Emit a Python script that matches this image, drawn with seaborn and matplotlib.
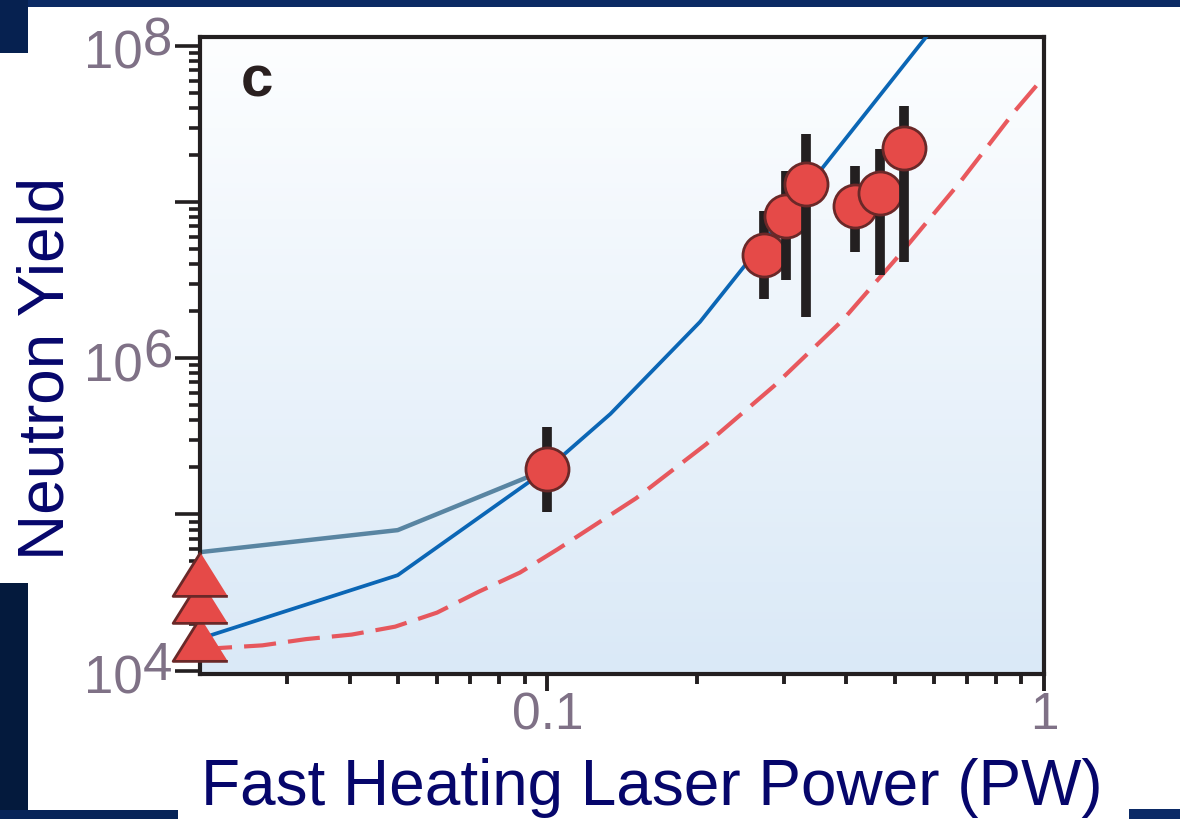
import numpy as np
import matplotlib
matplotlib.use("Agg")
import matplotlib.pyplot as plt
from matplotlib.patches import Rectangle
from matplotlib.colors import LinearSegmentedColormap
from matplotlib.ticker import FixedLocator, LogLocator, NullFormatter
import seaborn as sns

sns.set_theme(style="ticks")
plt.rcParams["font.family"] = ["Liberation Sans", "DejaVu Sans"]

# ── Data ─────────────────────────────────────────────────────────────────────

# heated shots: power (PW), yield, error bar low / high
shot_power = [0.1, 0.273, 0.302, 0.331, 0.417, 0.468, 0.523]
shot_yield = [1.94e5, 4.59e6, 8.09e6, 1.30e7, 9.37e6, 1.15e7, 2.22e7]
shot_low = [1.04e5, 2.39e6, 3.18e6, 1.84e6, 4.82e6, 3.39e6, 4.16e6]
shot_high = [3.64e5, 8.8e6, 1.57e7, 2.74e7, 1.69e7, 2.20e7, 4.14e7]

# implosion-only shots, drawn on the left edge (lowest first)
ref_power = [0.02, 0.02, 0.02]
ref_yield = [1.59e4, 2.78e4, 4.14e4]

# model curves
fit_power = [0.02, 0.05, 0.1, 0.134, 0.203, 0.322, 0.58, 0.7]
fit_yield = [1.60e4, 4.08e4, 1.95e5, 4.40e5, 1.71e6, 1.08e7, 1.15e8, 2.5e8]

upper_power = [0.02, 0.05, 0.1]
upper_yield = [5.73e4, 7.93e4, 1.95e5]

sim_power = [0.02, 0.0267, 0.0327, 0.0404, 0.0494, 0.060, 0.0728, 0.0881,
             0.105, 0.151, 0.209, 0.286, 0.393, 0.515, 0.676, 0.873, 1.0]
sim_yield = [1.37e4, 1.45e4, 1.59e4, 1.70e4, 1.91e4, 2.35e4, 3.20e4, 4.24e4,
             5.99e4, 1.27e5, 2.82e5, 6.64e5, 1.75e6, 4.70e6, 1.33e7, 3.82e7,
             6.35e7]

x_tick_vals = [0.1, 1]
x_tick_text = ["0.1", "1"]
y_label_exps = [4, 6, 8]

# ── Styling ──────────────────────────────────────────────────────────────────

NAVY = "#06066b"
TICK_TXT = "#7f7186"
INK = "#231f20"
RED = "#e54a48"
RED_EDGE = "#6a2828"

fig = plt.figure(figsize=(11.8, 8.19), dpi=100)
fig.patch.set_facecolor("white")

# dark background pieces around the white panel
for (x0, y0, w, h, c) in [
    (0.0, 0.9915, 1.0, 0.0085, "#0b2a64"),
    (0.0, 0.9353, 0.0237, 0.0647, "#062150"),
    (0.0, 0.0, 0.0237, 0.2882, "#041a3d"),
    (0.0, 0.0, 0.151, 0.011, "#072458"),
    (0.9568, 0.0, 0.0432, 0.0122, "#0b2a66"),
]:
    fig.add_artist(Rectangle((x0, y0), w, h, transform=fig.transFigure,
                             facecolor=c, edgecolor="none", zorder=0))

pos = [0.1695, 0.177, 0.7153, 0.7778]

# gradient behind the plot area
bg = fig.add_axes(pos, zorder=0)
grad = np.linspace(0, 1, 256).reshape(-1, 1)
cmap = LinearSegmentedColormap.from_list("panel", ["#fdfeff", "#dae9f7"])
bg.imshow(grad, aspect="auto", cmap=cmap, extent=[0, 1, 0, 1], origin="upper")
bg.axis("off")

ax = fig.add_axes(pos, zorder=1)
ax.set_facecolor("none")
ax.set_xscale("log")
ax.set_yscale("log")

# curves
sns.lineplot(x=sim_power, y=sim_yield, ax=ax, color="#e8474c", linewidth=3.0,
             alpha=0.9, estimator=None, sort=False, zorder=2)
ax.lines[-1].set_dashes([7.7, 2.9])
sns.lineplot(x=upper_power, y=upper_yield, ax=ax, color="#4a7a99",
             linewidth=3.2, alpha=0.9, estimator=None, sort=False, zorder=2.5)
sns.lineplot(x=fit_power, y=fit_yield, ax=ax, color="#0b66b5", linewidth=2.7,
             estimator=None, sort=False, zorder=3)

# measured points with error bars, each drawn over the previous one
for i, (p, y, lo, hi) in enumerate(zip(shot_power, shot_yield, shot_low, shot_high)):
    ax.vlines(p, lo, hi, color=INK, linewidth=7, capstyle="butt", zorder=4 + 2 * i)
    ax.plot(p, y, "o", ms=31, mfc=RED, mec=RED_EDGE, mew=2.0, zorder=5 + 2 * i)

# triangles at the axis edge
tri = [(0, 1), (-1.25, -1), (1.25, -1)]
sns.scatterplot(x=ref_power, y=ref_yield, ax=ax, marker=tri, s=1550,
                color=RED, edgecolor=RED_EDGE, linewidth=2.0, zorder=30,
                clip_on=False, legend=False)

ax.set_xlim(0.02, 1)
ax.set_ylim(9.5e3, 1.14e8)

# ticks
ax.xaxis.set_major_locator(FixedLocator(x_tick_vals))
ax.set_xticklabels(x_tick_text)
ax.xaxis.set_minor_locator(FixedLocator([k * 0.01 for k in range(3, 10)] +
                                        [k * 0.1 for k in range(2, 10)]))
ax.xaxis.set_minor_formatter(NullFormatter())
ax.yaxis.set_major_locator(FixedLocator([1e4, 1e5, 1e6, 1e7, 1e8]))
ax.yaxis.set_minor_locator(LogLocator(base=10, subs=np.arange(2, 10)))
ax.yaxis.set_major_formatter(NullFormatter())
ax.yaxis.set_minor_formatter(NullFormatter())

ax.tick_params(axis="x", which="major", length=12, width=2.8, pad=0.5,
               labelsize=37, labelcolor=TICK_TXT, color=INK, direction="out")
ax.tick_params(axis="x", which="minor", length=7, width=2.8, color=INK,
               direction="out")
ax.tick_params(axis="y", which="major", length=18, width=2.6, color=INK,
               direction="out")
ax.tick_params(axis="y", which="minor", length=8, width=2.6, color=INK,
               direction="out")

for s in ax.spines.values():
    s.set_linewidth(3)
    s.set_color(INK)

# 10^n labels with a full-size raised exponent
for e in y_label_exps:
    ax.annotate("10", xy=(0, 10.0 ** e), xycoords=("axes fraction", "data"),
                xytext=(-41.5, -16.5), textcoords="offset points",
                ha="right", va="baseline", fontsize=38, color=TICK_TXT,
                annotation_clip=False)
    ax.annotate(str(e), xy=(0, 10.0 ** e), xycoords=("axes fraction", "data"),
                xytext=(-41, -7), textcoords="offset points",
                ha="left", va="baseline", fontsize=38, color=TICK_TXT,
                annotation_clip=False)

ax.text(0.0486, 0.907, "c", transform=ax.transAxes, fontsize=42,
        fontweight="bold", color="#2a2020", ha="left", va="baseline")

ax.set_xlabel("Fast Heating Laser Power (PW)", fontsize=46, color=NAVY)
ax.xaxis.set_label_coords(0.535, -0.1325)
ax.set_ylabel("Neutron Yield", fontsize=46, color=NAVY)
ax.yaxis.set_label_coords(-0.1463, 0.480)

fig.savefig("out.png", dpi=100)
plt.close(fig)
